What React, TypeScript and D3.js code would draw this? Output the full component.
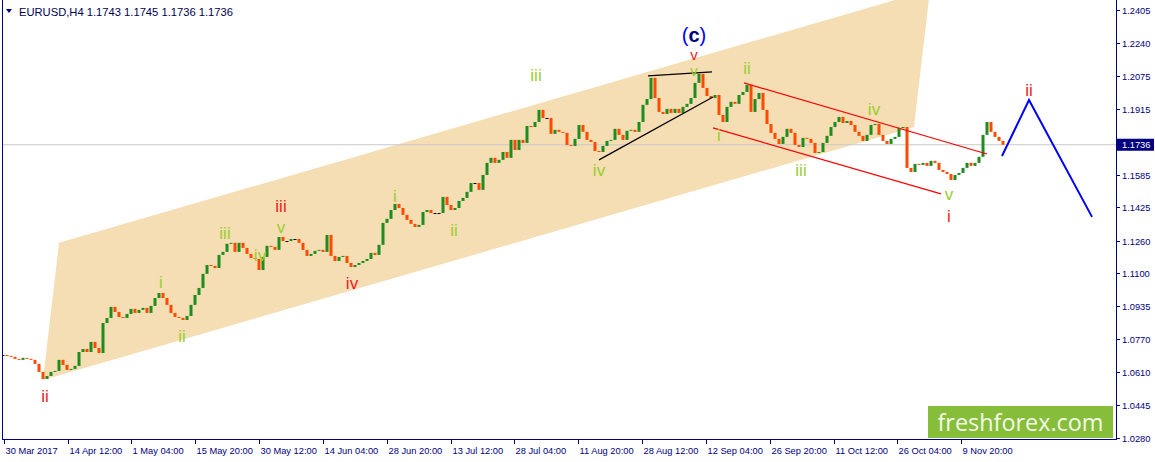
import React from 'react';
import * as d3 from 'd3';

// EURUSD H4 closes, every ~4px (one entry per drawn bar)
const prices = [
  1.0692, 1.0688, 1.0683, 1.0673, 1.0668, 1.0678, 1.0673, 1.0668, 1.0648, 1.0608,
  1.0573, 1.0588, 1.0608, 1.0613, 1.0668, 1.0643, 1.0618, 1.0623, 1.0638, 1.0707,
  1.0722, 1.0707, 1.0757, 1.0727, 1.0702, 1.0851, 1.0876, 1.0931, 1.0906, 1.0881,
  1.0876, 1.0896, 1.0921, 1.0901, 1.0916, 1.0926, 1.0901, 1.0936, 1.0975, 1.1000,
  1.0975, 1.0941, 1.0901, 1.0881, 1.0876, 1.0866, 1.0886, 1.0941, 1.0990, 1.1025,
  1.1095, 1.1139, 1.1134, 1.1124, 1.1189, 1.1204, 1.1244, 1.1249, 1.1204, 1.1249,
  1.1224, 1.1194, 1.1174, 1.1169, 1.1114, 1.1179, 1.1234, 1.1229, 1.1214, 1.1278,
  1.1258, 1.1258, 1.1268, 1.1268, 1.1249, 1.1214, 1.1184, 1.1194, 1.1209, 1.1214,
  1.1204, 1.1288, 1.1184, 1.1159, 1.1179, 1.1184, 1.1149, 1.1129, 1.1139, 1.1149,
  1.1159, 1.1169, 1.1199, 1.1189, 1.1239, 1.1348, 1.1368, 1.1412, 1.1442, 1.1422,
  1.1388, 1.1363, 1.1343, 1.1328, 1.1338, 1.1402, 1.1412, 1.1397, 1.1397, 1.1397,
  1.1477, 1.1437, 1.1412, 1.1422, 1.1457, 1.1472, 1.1502, 1.1546, 1.1546, 1.1512,
  1.1586, 1.1646, 1.1671, 1.1646, 1.1661, 1.1700, 1.1671, 1.1760, 1.1710, 1.1760,
  1.1745, 1.1829, 1.1824, 1.1849, 1.1909, 1.1869, 1.1869, 1.1790, 1.1810, 1.1800,
  1.1795, 1.1735, 1.1730, 1.1765, 1.1834, 1.1800, 1.1760, 1.1750, 1.1705, 1.1700,
  1.1730, 1.1755, 1.1760, 1.1815, 1.1785, 1.1760, 1.1805, 1.1810, 1.1800, 1.1849,
  1.1934, 1.1963, 1.2068, 1.1968, 1.1899, 1.1889, 1.1914, 1.1894, 1.1914, 1.1894,
  1.1924, 1.1939, 1.1968, 1.2043, 1.2088, 1.2018, 1.1978, 1.1968, 1.1983, 1.1884,
  1.1849, 1.1924, 1.1949, 1.1939, 1.1983, 1.1998, 1.2033, 1.1899, 1.1963, 1.1993,
  1.1909, 1.1839, 1.1795, 1.1765, 1.1740, 1.1775, 1.1815, 1.1795, 1.1735, 1.1725,
  1.1770, 1.1765, 1.1745, 1.1695, 1.1700, 1.1745, 1.1780, 1.1824, 1.1849, 1.1874,
  1.1844, 1.1854, 1.1834, 1.1800, 1.1780, 1.1755, 1.1785, 1.1834, 1.1839, 1.1785,
  1.1755, 1.1740, 1.1765, 1.1775, 1.1820, 1.1824, 1.1621, 1.1601, 1.1641, 1.1636,
  1.1646, 1.1631, 1.1656, 1.1646, 1.1611, 1.1601, 1.1591, 1.1561, 1.1586, 1.1596,
  1.1621, 1.1646, 1.1631, 1.1646, 1.1676, 1.1785, 1.1849, 1.1800, 1.1775, 1.1755,
  1.1736,
];
const lastPrice = 1.1736;
const header = 'EURUSD,H4  1.1743 1.1745 1.1736 1.1736';

const yTickValues = [
  1.2405, 1.224, 1.2075, 1.1915, 1.175, 1.1585, 1.1425, 1.126, 1.11, 1.0935,
  1.077, 1.061, 1.0445, 1.028,
];
const xTickLabels = [
  '30 Mar 2017', '14 Apr 12:00', '1 May 04:00', '15 May 20:00', '30 May 12:00',
  '14 Jun 04:00', '28 Jun 20:00', '13 Jul 12:00', '28 Jul 04:00', '11 Aug 20:00',
  '28 Aug 12:00', '12 Sep 04:00', '26 Sep 20:00', '11 Oct 12:00', '26 Oct 04:00',
  '9 Nov 20:00',
];
const BARS_PER_TICK = 15.96;

// rising channel, in (bar, price)
const channel: [number, number][] = [
  [10, 1.0568], [14, 1.1249], [231.75, 1.2505], [227.75, 1.1824],
];
// black triangle lines
const triangleLines: [number, number][][] = [
  [[161.25, 1.2078], [177.25, 1.2098]],
  [[149, 1.1661], [177.5, 1.1973]],
];
// red falling channel
const redLines: [number, number][][] = [
  [[185.25, 1.2043], [246, 1.169]],
  [[177.5, 1.182], [234.5, 1.1492]],
];
// blue forecast
const forecast: [number, number][] = [[249.75, 1.168], [256.5, 1.1958], [272.25, 1.1378]];

// wave labels: text, bar, price, degree
const waveLabels: [string, number, number, string][] = [
  ['ii', 10.5, 1.0484, 'major'],
  ['i', 39.5, 1.105, 'minor'],
  ['ii', 44.75, 1.0782, 'minor'],
  ['iii', 55.5, 1.1293, 'minor'],
  ['iv', 64.25, 1.1184, 'minor'],
  ['v', 69.5, 1.1323, 'minor'],
  ['iii', 69.5, 1.1427, 'major'],
  ['iv', 87.25, 1.1045, 'major'],
  ['i', 98, 1.1477, 'minor'],
  ['ii', 112.75, 1.1308, 'minor'],
  ['iii', 133.25, 1.2078, 'minor'],
  ['iv', 149, 1.1606, 'minor'],
  ['v', 172.75, 1.2107, 'minor'],
  ['v', 172.75, 1.2182, 'major'],
  ['ii', 186, 1.2117, 'minor'],
  ['i', 179, 1.178, 'minor'],
  ['iii', 199.5, 1.1606, 'minor'],
  ['iv', 217.75, 1.1909, 'minor'],
  ['v', 236.5, 1.1487, 'minor'],
  ['i', 236.5, 1.1378, 'major'],
  ['ii', 256.5, 1.2003, 'major'],
];
const cLabel: [number, number] = [172.75, 1.2281];

const NAVY = '#000080';
const labelColor: Record<string, string> = { minor: '#9ACD32', major: '#F0201E' };

export default function App() {
  const x = d3.scaleLinear().domain([0, 278.25]).range([3, 1116]);
  const y = d3.scaleLinear().domain([1.028, 1.2405]).range([438, 10]);
  const line = d3.line<[number, number]>().x((d) => x(d[0])).y((d) => y(d[1]));
  const plotLeft = 2;
  const plotRight = 1116;
  const plotBottom = 439;
  const font = "'Liberation Sans', Arial, sans-serif";

  return (
    <div style={{ position: 'fixed', left: 0, top: 0 }}>
      <svg width={1155} height={462} style={{ display: 'block', background: '#fff' }}>
        <defs>
          <clipPath id="plot">
            <rect x={plotLeft} y={0} width={plotRight - plotLeft} height={plotBottom} />
          </clipPath>
        </defs>
        <g clipPath="url(#plot)">
          <path d={line(channel) + 'Z'} fill="#F5DEB3" />
          <line x1={plotLeft} x2={plotRight} y1={y(lastPrice)} y2={y(lastPrice)} stroke="#C8C8C8" />
          {prices.map((c, i) => {
            const o = i === 0 ? c : prices[i - 1];
            const top = y(Math.max(o, c));
            const h = Math.max(1, Math.abs(y(o) - y(c)));
            const col = c > o ? '#1E8C1E' : c < o ? '#FF4A00' : '#000';
            return <rect key={i} x={x(i) - 1.5} y={top} width={3} height={h} fill={col} />;
          })}
          {triangleLines.map((l, k) => (
            <path key={'t' + k} d={line(l) || ''} stroke="#000" strokeWidth={1.2} fill="none" />
          ))}
          {redLines.map((l, k) => (
            <path key={'r' + k} d={line(l) || ''} stroke="#FF0000" strokeWidth={1.2} fill="none" />
          ))}
          <path d={line(forecast) || ''} stroke="#0000FF" strokeWidth={2} fill="none" />
          {waveLabels.map(([t, b, p, kind], k) => (
            <text
              key={'w' + k}
              x={x(b)}
              y={y(p)}
              textAnchor="middle"
              dominantBaseline="central"
              fontFamily={font}
              fontSize={t === 'v' && b > 170 && b < 175 ? 15 : 17}
              fill={labelColor[kind]}
            >
              {t}
            </text>
          ))}
          <text
            x={x(cLabel[0])}
            y={y(cLabel[1])}
            textAnchor="middle"
            dominantBaseline="central"
            fontFamily={font}
            fontSize={20}
          >
            <tspan fill="#0000FF">(</tspan>
            <tspan fill={NAVY} fontWeight="bold">c</tspan>
            <tspan fill="#0000FF">)</tspan>
          </text>
        </g>

        {/* watermark */}
        <rect x={928} y={406} width={185} height={32} fill="#86BE3A" />
        <text x={1020.5} y={431} textAnchor="middle" fontFamily="'Open Sans', sans-serif" fontSize={24} fill="#F4FAEA" textLength={166} lengthAdjust="spacingAndGlyphs">
          freshforex.com
        </text>

        {/* header */}
        <path d="M6,9 L12,9 L9,13 Z" fill={NAVY} />
        <text x={19} y={16} fontFamily={font} fontSize={11.2} fill="#000050">
          {header}
        </text>

        {/* frame */}
        <line x1={plotLeft + 0.5} x2={plotLeft + 0.5} y1={0} y2={plotBottom} stroke={NAVY} />
        <line x1={plotRight + 0.5} x2={plotRight + 0.5} y1={0} y2={plotBottom + 0.5} stroke={NAVY} />
        <line x1={plotLeft} x2={plotRight + 1} y1={plotBottom + 0.5} y2={plotBottom + 0.5} stroke={NAVY} />

        {/* price axis */}
        {yTickValues.map((v) => (
          <g key={v} transform={`translate(0,${Math.round(y(v)) + 0.5})`}>
            <line x1={plotRight} x2={plotRight + 4} stroke={NAVY} />
            <text x={plotRight + 6} dy="0.35em" fontFamily={font} fontSize={9.3} fill={NAVY}>
              {v.toFixed(4)}
            </text>
          </g>
        ))}
        <rect x={plotRight + 1} y={y(lastPrice) - 6} width={37} height={12} fill={NAVY} />
        <text x={plotRight + 6} y={y(lastPrice)} dy="0.35em" fontFamily={font} fontSize={9.3} fill="#fff">
          {lastPrice.toFixed(4)}
        </text>

        {/* time axis */}
        {xTickLabels.map((t, k) => {
          const px = Math.round(x(k * BARS_PER_TICK) + 0.7) + 0.5;
          return (
            <g key={t}>
              <line x1={px} x2={px} y1={plotBottom} y2={plotBottom + 5} stroke={NAVY} />
              <text x={px + 1} y={454} fontFamily={font} fontSize={9.3} fill={NAVY}>
                {t}
              </text>
            </g>
          );
        })}
      </svg>
    </div>
  );
}
